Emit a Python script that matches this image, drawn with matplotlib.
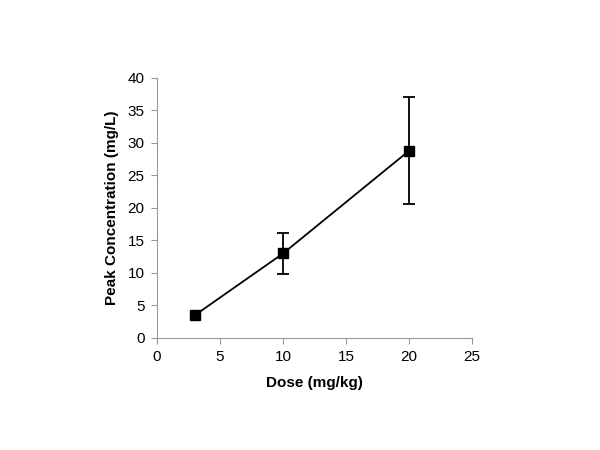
import numpy as np
import matplotlib.pyplot as plt

plt.rcParams['font.family'] = ['Liberation Sans', 'DejaVu Sans']

dose = [3, 10, 20]
peak = [3.5, 13.0, 28.8]
err = [np.nan, 3.1, 8.2]  # no bar shown at the lowest dose
xticks = [0, 5, 10, 15, 20, 25]
yticks = [0, 5, 10, 15, 20, 25, 30, 35, 40]

fig = plt.figure(figsize=(6, 4.5), dpi=100)
ax = fig.add_axes([0.2617, 0.2489, 0.525, 0.5778])

ax.errorbar(dose, peak, yerr=err, color='black', lw=1.3, marker='s', ms=7.5,
            capsize=4, elinewidth=1.3, capthick=1.3)

ax.set_xlim(0, 25)
ax.set_ylim(0, 40)
ax.set_xticks(xticks)
ax.set_yticks(yticks)
ax.set_xlabel('Dose (mg/kg)', fontsize=11, fontweight='bold', labelpad=8)
ax.set_ylabel('Peak Concentration (mg/L)', fontsize=11, fontweight='bold', labelpad=6)

for s in ['top', 'right']:
    ax.spines[s].set_visible(False)
for s in ['left', 'bottom']:
    ax.spines[s].set_color('#999999')
ax.tick_params(colors='#999999', labelcolor='black', labelsize=11, length=4, pad=5)

fig.savefig('out.png', dpi=100)
